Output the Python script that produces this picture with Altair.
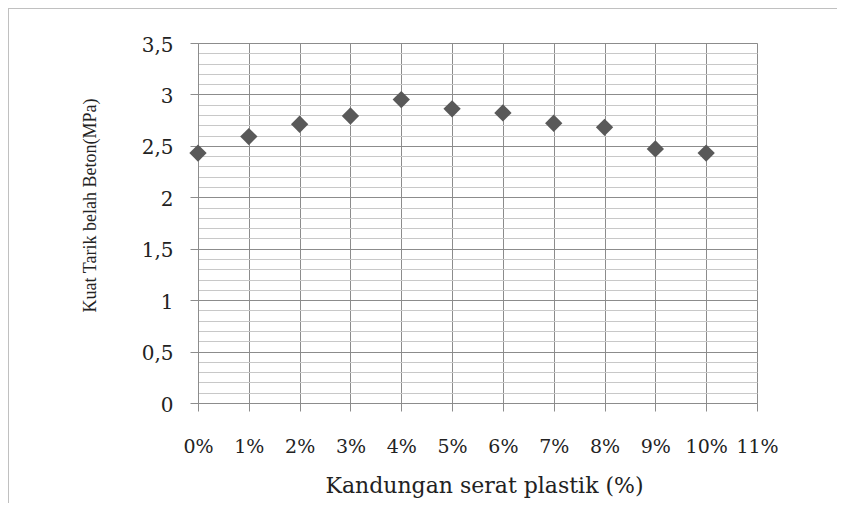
import altair as alt
import pandas as pd

kandungan = [0, 1, 2, 3, 4, 5, 6, 7, 8, 9, 10]
kuat_tarik = [2.43, 2.59, 2.71, 2.79, 2.95, 2.86, 2.82, 2.72, 2.68, 2.47, 2.43]
x_ticks = list(range(0, 12))
y_ticks = [round(i * 0.1, 1) for i in range(36)]

df = pd.DataFrame({"x": kandungan, "y": kuat_tarik})

is_major = "abs(datum.value * 2 - round(datum.value * 2)) < 0.0001"

x_axis = alt.Axis(
    values=x_ticks,
    labelExpr="datum.value + '%'",
    title="Kandungan serat plastik (%)",
    grid=True,
    gridColor="#8c8c8c",
    gridWidth=1,
    domainColor="#8c8c8c",
    tickColor="#8c8c8c",
    tickSize=8,
    labelFont="DejaVu Serif",
    labelFontSize=19,
    labelColor="#222222",
    labelBaseline="alphabetic",
    labelPadding=41,
    labelFlush=False,
    labelOverlap=False,
    titleFont="DejaVu Serif",
    titleFontSize=22,
    titleFontWeight="normal",
    titleColor="#222222",
    titleBaseline="alphabetic",
    titleX=286,
    titleY=89,
)

y_axis = alt.Axis(
    values=y_ticks,
    labelExpr="(" + is_major + ") ? replace(format(datum.value, '.1~f'), '.', ',') : ''",
    title="Kuat Tarik belah Beton(MPa)",
    grid=True,
    gridColor={"condition": {"test": is_major, "value": "#8c8c8c"}, "value": "#c8c8c8"},
    gridWidth=1,
    domainColor="#8c8c8c",
    tickColor={"condition": {"test": is_major, "value": "#8c8c8c"}, "value": "transparent"},
    tickSize=8,
    labelFont="DejaVu Serif",
    labelFontSize=20,
    labelColor="#222222",
    labelPadding=17,
    labelOffset=2,
    labelFlush=False,
    labelOverlap=False,
    titleFont="Liberation Serif",
    titleFontSize=18,
    titleFontWeight="normal",
    titleColor="#222222",
    titleBaseline="middle",
    titleX=-108,
    titleY=162,
)

points = alt.Chart(df).mark_point(
    shape="diamond", filled=True, color="#595959", opacity=1, size=300
).encode(
    x=alt.X("x:Q", scale=alt.Scale(domain=[0, 11], nice=False, zero=False), axis=x_axis),
    y=alt.Y("y:Q", scale=alt.Scale(domain=[0, 3.5], nice=False), axis=y_axis),
)

frame_left = alt.Chart(df).mark_rule(color="#c0c0c0", strokeWidth=1).encode(
    x=alt.value(-189.5), y=alt.value(-35), y2=alt.value(500)
)
frame_top = alt.Chart(df).mark_rule(color="#c0c0c0", strokeWidth=1).encode(
    y=alt.value(-34.5), x=alt.value(-190), x2=alt.value(660)
)

chart = alt.layer(frame_left, frame_top, points).properties(
    width=559,
    height=360,
    autosize=alt.AutoSizeParams(type="none"),
    padding={"left": 190, "top": 35, "right": 80, "bottom": 100},
).configure_view(stroke=None).configure(background="white")

chart.save("out.html", embed_options={"renderer": "svg", "actions": False})
